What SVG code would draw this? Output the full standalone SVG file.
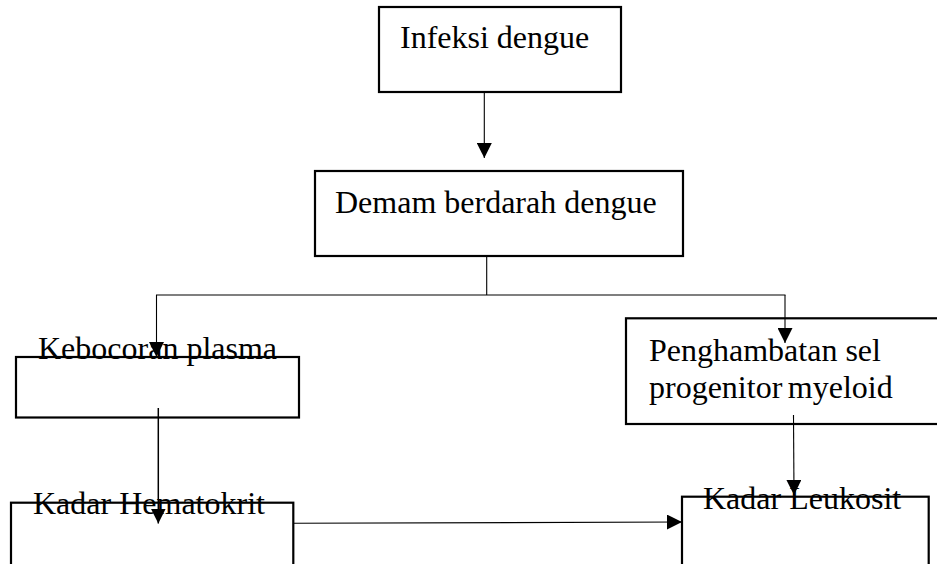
<svg xmlns="http://www.w3.org/2000/svg" width="937" height="564" viewBox="0 0 937 564">
<style>
.box{fill:none;stroke:#000;stroke-width:2.2}
.lbl{font-family:"Liberation Serif","Times New Roman",serif;font-size:32px;fill:#000}
.con{fill:none;stroke:#000;stroke-width:1.1}
</style>
<defs>
<marker id="ah" viewBox="0 0 15 15" refX="15" refY="7.5" markerWidth="15" markerHeight="15" markerUnits="userSpaceOnUse" orient="auto">
<path d="M0,0 L15,7.5 L0,15 z" fill="#000"/>
</marker>
</defs>
<rect width="937" height="564" fill="#fff"/>
<g id="connectors">
<line class="con" x1="484.3" y1="92" x2="484.3" y2="158" marker-end="url(#ah)"/>
<line class="con" x1="486.7" y1="256" x2="486.7" y2="295"/>
<line class="con" x1="156" y1="295" x2="785.5" y2="295"/>
<line class="con" x1="156.5" y1="295" x2="156.5" y2="357" marker-end="url(#ah)"/>
<line class="con" x1="785" y1="295" x2="785" y2="343" marker-end="url(#ah)"/>
<line class="con" style="stroke-width:1.5" x1="158.3" y1="408" x2="158.3" y2="523.5" marker-end="url(#ah)"/>
<line class="con" x1="793.5" y1="415" x2="794" y2="495" marker-end="url(#ah)"/>
<line class="con" x1="293.3" y1="523.3" x2="682" y2="522" marker-end="url(#ah)"/>
</g>
<g id="infeksi">
<rect class="box" x="379" y="7" width="242" height="85"/>
<text class="lbl" x="400" y="48.3">Infeksi dengue</text>
</g>
<g id="demam">
<rect class="box" x="315" y="171" width="368" height="85"/>
<text class="lbl" x="335" y="213.3">Demam berdarah dengue</text>
</g>
<g id="kebocoran">
<rect class="box" x="16" y="357" width="283" height="60.5"/>
<text class="lbl" x="38" y="359.3">Kebocoran plasma</text>
</g>
<g id="penghambatan">
<rect class="box" x="626" y="318.3" width="330" height="105.7"/>
<text class="lbl" x="649" y="361">Penghambatan sel</text>
<text class="lbl" x="649" y="398.3" word-spacing="-2.5">progenitor myeloid</text>
</g>
<g id="hematokrit">
<rect class="box" x="11" y="502.7" width="282.3" height="100"/>
<text class="lbl" x="33" y="513.5">Kadar Hematokrit</text>
</g>
<g id="leukosit">
<rect class="box" x="682" y="496.7" width="246.7" height="100"/>
<text class="lbl" x="703" y="509.3">Kadar Leukosit</text>
</g>
</svg>
